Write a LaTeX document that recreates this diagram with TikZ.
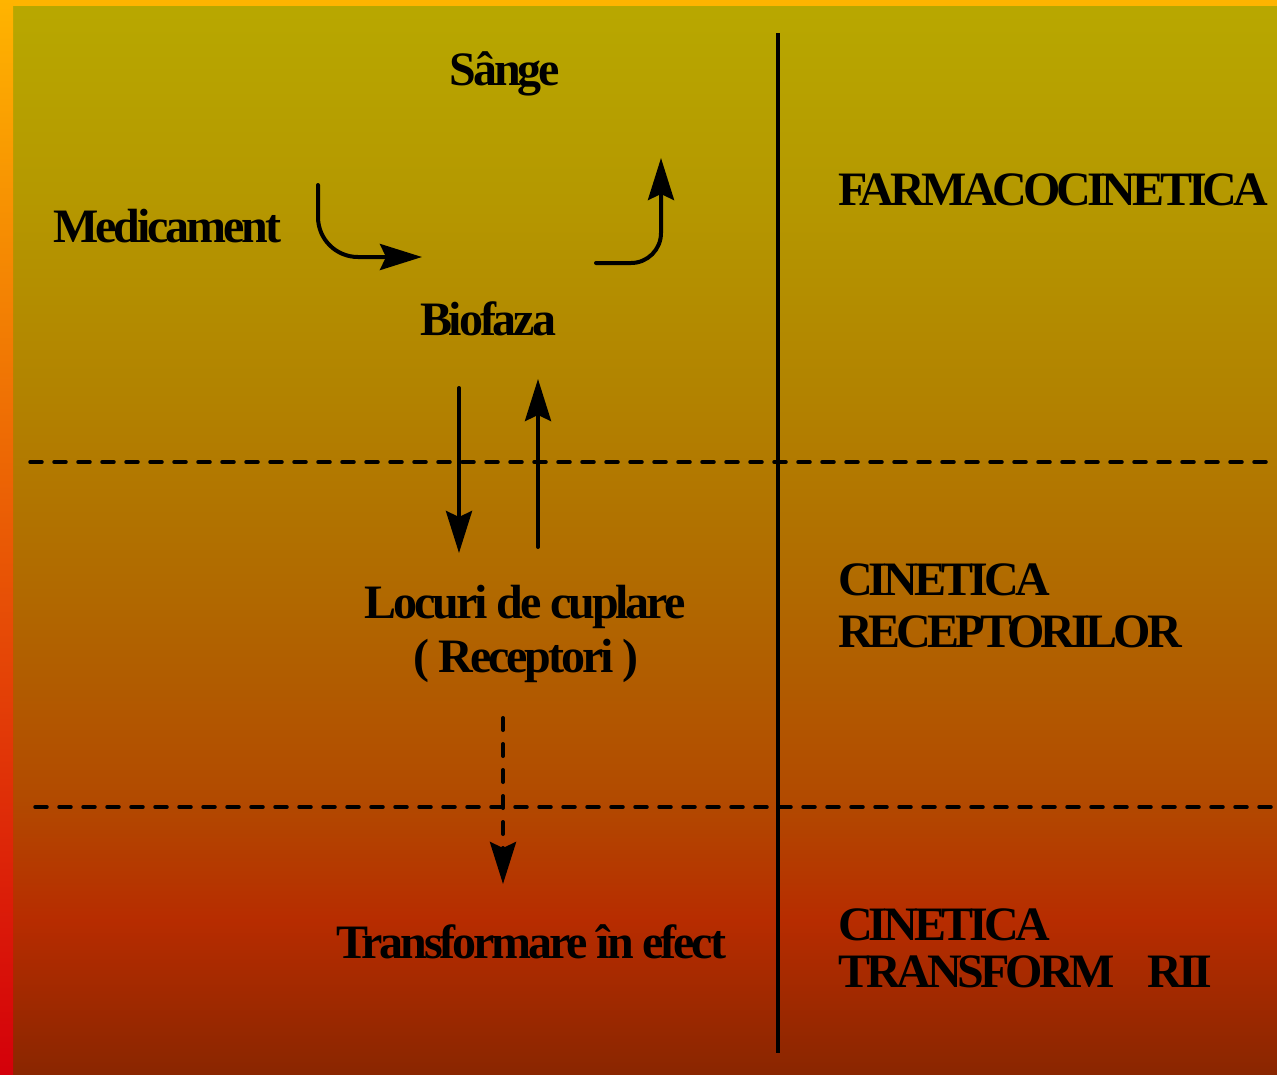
\documentclass[tikz,border=0pt]{standalone}
\usepackage{fontspec}
\setmainfont{Liberation Serif}[LetterSpace=-6.5]
\newfontfamily\sidefont{Liberation Serif}[LetterSpace=-8.5]
\usepackage{tikz}
\usetikzlibrary{arrows.meta}
\definecolor{bgzero}{RGB}{138,38,0}
\definecolor{bgone}{RGB}{183,44,0}
\definecolor{bgtwo}{RGB}{178,74,0}
\definecolor{bgthree}{RGB}{177,104,0}
\definecolor{bgfour}{RGB}{178,130,0}
\definecolor{bgfive}{RGB}{181,152,0}
\definecolor{bgsix}{RGB}{184,168,0}
\definecolor{striptop}{RGB}{255,180,0}
\definecolor{stripmid}{RGB}{255,90,0}
\definecolor{stripbot}{RGB}{212,0,10}
\pgfdeclareverticalshading{slide}{100bp}{color(0bp)=(bgzero); color(25bp)=(bgzero);
  color(32.17bp)=(bgone); color(37.76bp)=(bgtwo); color(47.07bp)=(bgthree);
  color(56.38bp)=(bgfour); color(65.69bp)=(bgfive); color(75bp)=(bgsix); color(100bp)=(bgsix)}
\tikzstyle{flow}=[-{Stealth[length=42pt,width=26pt,inset=6pt]},line width=4pt,line cap=round]
\tikzstyle{lbl}=[inner sep=0pt,anchor=base,font=\fontsize{48}{52}\selectfont\bfseries]
\tikzstyle{side}=[lbl,anchor=base west,font=\fontsize{48}{52}\sidefont\bfseries]
\tikzstyle{limit}=[dash pattern=on 12pt off 12pt,line width=3.5pt,line cap=round]

\begin{document}
\begin{tikzpicture}[x=1pt,y=-1pt]
            \useasboundingbox (0,0) rectangle (1277,1074);
            % background and frame strips
            \shade[shading=slide] (0,0) rectangle (1277,1074);
            \fill[striptop] (0,0) rectangle (1277,6);
            \shade[top color=striptop,middle color=stripmid,bottom color=stripbot] (0,0) rectangle (13,1074);
            % separators
            \draw[line width=4pt] (778,33) -- (778,1053);
            \draw[limit] (30,462) -- (1277,462);
            \draw[limit] (35,807) -- (1277,807);
            % labels
            \node[lbl] (sange) at (505,85) {Sânge};
            \node[lbl] (medic) at (167,242) {Medicament};
            \node[lbl] (biofaza) at (488,335) {Biofaza};
            \node[lbl] (locuri) at (525,618) {Locuri de cuplare};
            \node[lbl] (recept) at (526,672) {( Receptori )};
            \node[lbl] (efect) at (531,958) {Transformare în efect};
            \node[side] (farma) at (838,205) {FARMACOCINETICA};
            \node[side] (cinA) at (838,595) {CINETICA};
            \node[side] (recA) at (838,647) {RECEPTORILOR};
            \node[side] (cinB) at (838,940) {CINETICA};
            \node[side] (trans) at (838,987) {TRANSFORM\hspace*{33pt}RII};
            % arrow ends
            \coordinate (in0) at (318,185);
            \coordinate (in1) at (422,257);
            \coordinate (out0) at (596,263);
            \coordinate (out1) at (661,158);
            \coordinate (down0) at (459,388);
            \coordinate (down1) at (459,553);
            \coordinate (up0) at (538,547);
            \coordinate (up1) at (538,379);
            \coordinate (eff0) at (503,718);
            \coordinate (eff1) at (503,884);
            \draw[flow,rounded corners=40pt] (in0) |- (in1);
            \draw[flow,rounded corners=30pt] (out0) -| (out1);
            \draw[flow] (down0) -- (down1);
            \draw[flow] (up0) -- (up1);
            \draw[flow,dash pattern=on 12pt off 14pt] (eff0) -- (eff1);
        \end{tikzpicture}
\end{document}
